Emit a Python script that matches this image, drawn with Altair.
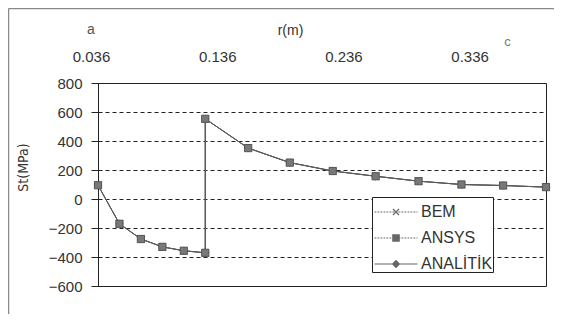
import altair as alt
import pandas as pd

series_names = ["BEM", "ANSYS", "ANALİTİK"]
r_values = [0.036, 0.053, 0.070, 0.087, 0.104, 0.121, 0.121, 0.155, 0.188,
            0.222, 0.256, 0.290, 0.324, 0.357, 0.391]
bem = [95, -171, -276, -330, -357, -371, 553, 351, 251, 193, 157, 123, 100, 93, 82]
ansys = [95, -171, -276, -330, -357, -371, 553, 351, 251, 193, 157, 123, 100, 93, 82]
analitik = [95, -171, -276, -330, -357, -371, 553, 351, 251, 193, 157, 123, 100, 93, 82]
r_ticks = [0.036, 0.136, 0.236, 0.336]
st_ticks = [-600, -400, -200, 0, 200, 400, 600, 800]
annot_a = ["a"]
annot_a_r = [0.036]
annot_c = ["c"]
annot_c_r = [0.366]

FONT = "Liberation Sans"
NARROW = "Liberation Sans Narrow, DejaVu Sans Condensed, Liberation Sans"
rows = []
for name, vals in [("BEM", bem), ("ANALİTİK", analitik), ("ANSYS", ansys)]:
    for i, (r, v) in enumerate(zip(r_values, vals)):
        rows.append({"series": name, "idx": i, "r": r, "st": v})
df = pd.DataFrame(rows)

xscale = alt.Scale(domain=[0.036, 0.391], nice=False, zero=False)
yscale = alt.Scale(domain=[-600, 800], nice=False, zero=False)

x_axis = alt.Axis(orient="top", values=r_ticks, format=".3f", grid=False,
                  domain=False, ticks=True, tickSize=0, labelPadding=19,
                  labelOffset=-7, labelFlush=False, labelOverlap=False,
                  titleX=192, titlePadding=12,
                  labelFont=FONT, labelFontSize=15, labelColor="#333",
                  titleFont=FONT, titleFontSize=14, titleColor="#333",
                  titleFontWeight="normal")
y_axis = alt.Axis(values=st_ticks, grid=True, gridDash=[4, 3], labelOverlap=False,
                  gridColor="#222", gridOpacity=1, domainColor="#222",
                  tickColor="#222", tickSize=7, labelPadding=9,
                  labelFont=FONT, labelFontSize=15, labelColor="#333",
                  titleFont=NARROW, titleFontSize=14, titleColor="#333",
                  titleFontWeight="normal", titlePadding=18, titleY=84)
x_enc = alt.X("r:Q", scale=xscale, title="r(m)", axis=x_axis)
y_enc = alt.Y("st:Q", scale=yscale, title="St(MPa)", axis=y_axis)

one = pd.DataFrame({"k": [0]})
FRAME = dict(stroke="#8a8a8a", strokeWidth=1.5)
frame_left = alt.Chart(one).mark_rule(**FRAME).encode(
    x=alt.value(-89.5), y=alt.value(-74.5), y2=alt.value(304.5))
frame_top = alt.Chart(one).mark_rule(**FRAME).encode(
    x=alt.value(-89.5), x2=alt.value(470), y=alt.value(-74.5))
frame_bottom = alt.Chart(one).mark_rule(**FRAME).encode(
    x=alt.value(-89.5), x2=alt.value(470), y=alt.value(304.5))

lines = alt.Chart(df).mark_line(strokeWidth=1, color="#5a5a5a").encode(
    x=x_enc, y=y_enc,
    detail="series:N",
    order=alt.Order("idx:Q"),
)

points = alt.Chart(df).mark_point(filled=True, size=52, fill="#787878", stroke="#555555",
                                  strokeWidth=1, opacity=1).encode(
    x=x_enc, y=y_enc,
    shape=alt.Shape("series:N",
                    scale=alt.Scale(domain=series_names,
                                    range=["M-1,-1L1,1M-1,1L1,-1", "square", "diamond"]),
                    legend=None),
)

# legend glyphs, designed in pixels and divided by the symbol radius (sqrt(size)/2)
SYM_SIZE = 900
K = (SYM_SIZE ** 0.5) / 2
HALF = 21.5


def fmt(v):
    return f"{v / K:.4f}"


def dotted_line(dash=1.8, gap=1.2, w=0.5):
    parts = []
    x = -HALF
    while x < HALF:
        x2 = min(x + dash, HALF)
        parts.append(f"M{fmt(x)},{fmt(-w)}H{fmt(x2)}V{fmt(w)}H{fmt(x)}Z")
        x += dash + gap
    return "".join(parts)


def poly(pts):
    return "M" + "L".join(f"{fmt(px)},{fmt(py)}" for px, py in pts) + "Z"


solid_line = poly([(-HALF, -0.5), (HALF, -0.5), (HALF, 0.5), (-HALF, 0.5)])
x_marker = (poly([(-3.42, -2.58), (2.58, 3.42), (3.42, 2.58), (-2.58, -3.42)]) +
            poly([(3.42, -2.58), (2.58, -3.42), (-3.42, 2.58), (-2.58, 3.42)]))
sq_marker = poly([(-3.8, -3.8), (3.8, -3.8), (3.8, 3.8), (-3.8, 3.8)])
di_marker = poly([(0, -4.2), (4.2, 0), (0, 4.2), (-4.2, 0)])
legend_paths = [dotted_line() + x_marker, dotted_line() + sq_marker, solid_line + di_marker]

legend_layer = alt.Chart(pd.DataFrame({"seri": series_names})).transform_filter(
    "false"
).mark_point(filled=True, fill="#666666", strokeWidth=0, opacity=1).encode(
    shape=alt.Shape("seri:N",
                    scale=alt.Scale(domain=series_names, range=legend_paths),
                    legend=alt.Legend(title=None, orient="none", legendX=274, legendY=114,
                                      direction="vertical", fillColor="white",
                                      strokeColor="#222", padding=0, cornerRadius=0,
                                      symbolSize=SYM_SIZE, symbolFillColor="#666666",
                                      symbolStrokeWidth=0, symbolOpacity=1,
                                      symbolOffset=9, labelOffset=10, rowPadding=3,
                                      labelExpr="datum.label + '\u00a0'",
                                      labelFont=FONT, labelFontSize=16, labelColor="#333")),
)

text_a = alt.Chart(pd.DataFrame({"lab": annot_a, "r": annot_a_r})).mark_text(
    font=FONT, fontSize=14, color="#555", dx=-7
).encode(x="r:Q", y=alt.value(-53), text="lab:N")
text_c = alt.Chart(pd.DataFrame({"lab": annot_c, "r": annot_c_r})).mark_text(
    font=FONT, fontSize=13, color="#777", dx=-7
).encode(x="r:Q", y=alt.value(-41), text="lab:N")

chart = alt.layer(frame_left, frame_top, frame_bottom, lines, points, legend_layer,
                  text_a, text_c).resolve_scale(
    shape="independent"
).properties(
    width=448, height=203,
    autosize=alt.AutoSizeParams(type="none"),
    padding={"left": 90, "top": 75, "right": 8, "bottom": 28},
    background="white",
).configure_view(stroke="#222", strokeWidth=1)

chart.save("out.html", embed_options={"renderer": "svg", "actions": False})
